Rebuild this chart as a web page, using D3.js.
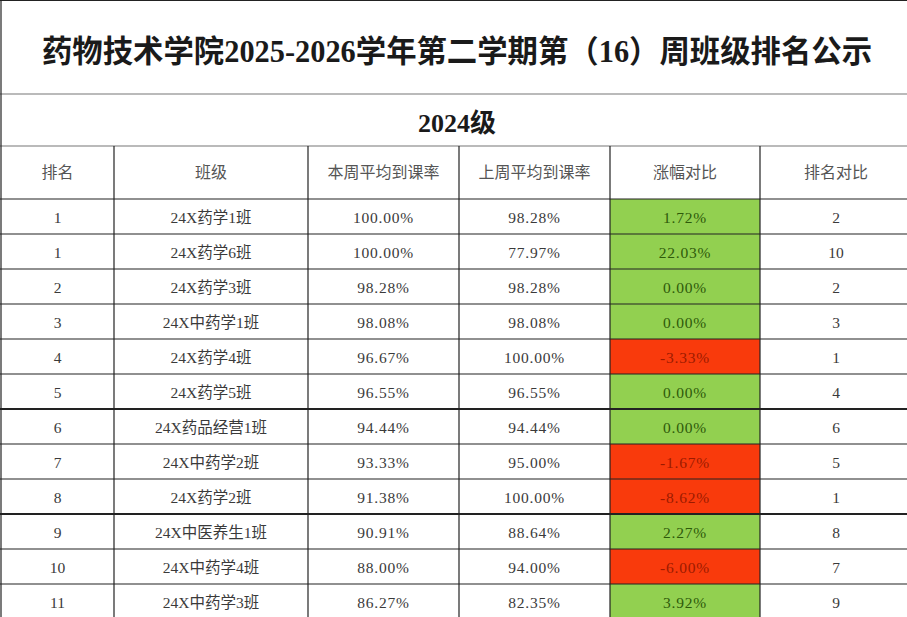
<!DOCTYPE html>
<html>
<head>
<meta charset="utf-8">
<script src="https://cdn.jsdelivr.net/npm/d3@7"></script>
<style>
  html, body { margin: 0; padding: 0; background: #fff; overflow: hidden; }
  text { font-family: "Liberation Serif", "Noto Sans CJK SC", serif; }
</style>
</head>
<body>
<div class="tableau"></div>
<script>
// titres
var titre = "药物技术学院2025-2026学年第二学期第（16）周班级排名公示";
var niveau = "2024级";
var entetes = ["排名", "班级", "本周平均到课率", "上周平均到课率", "涨幅对比", "排名对比"];

// donnees
var rangs = [1, 1, 2, 3, 4, 5, 6, 7, 8, 9, 10, 11];
var classes = ["24X药学1班", "24X药学6班", "24X药学3班", "24X中药学1班", "24X药学4班", "24X药学5班",
  "24X药品经营1班", "24X中药学2班", "24X药学2班", "24X中医养生1班", "24X中药学4班", "24X中药学3班"];
var cetteSemaine = [100.00, 100.00, 98.28, 98.08, 96.67, 96.55, 94.44, 93.33, 91.38, 90.91, 88.00, 86.27];
var semaineDerniere = [98.28, 77.97, 98.28, 98.08, 100.00, 96.55, 94.44, 95.00, 100.00, 88.64, 94.00, 82.35];
var variation = [1.72, 22.03, 0.00, 0.00, -3.33, 0.00, 0.00, -1.67, -8.62, 2.27, -6.00, 3.92];
var rangPrecedent = [2, 10, 2, 3, 1, 4, 6, 5, 1, 8, 7, 9];

var width = 907, height = 617;
var bordsColonnes = [1, 114, 308, 459, 610, 760, 912];
var hautTitre = 94, hautNiveau = 146, hautEntete = 199, hauteurLigne = 35;

var nbLignes = rangs.length;
var lignes = d3.range(nbLignes).map(function (i) {
  return {
    cellules: [
      String(rangs[i]),
      classes[i],
      cetteSemaine[i].toFixed(2) + "%",
      semaineDerniere[i].toFixed(2) + "%",
      variation[i].toFixed(2) + "%",
      String(rangPrecedent[i])
    ],
    variation: variation[i]
  };
});

var y = d3.scaleLinear()
  .domain([0, nbLignes])
  .range([hautEntete, hautEntete + nbLignes * hauteurLigne]);

var svg = d3.select(".tableau").append("svg")
  .attr("width", width)
  .attr("height", height);

// fonds des cellules de variation
svg.append("g").selectAll("rect")
  .data(lignes)
  .enter().append("rect")
  .attr("x", bordsColonnes[4])
  .attr("y", function (d, i) { return y(i); })
  .attr("width", bordsColonnes[5] - bordsColonnes[4])
  .attr("height", hauteurLigne)
  .attr("fill", function (d) { return d.variation < 0 ? "#F93A0C" : "#92D050"; });

// titre
svg.append("text")
  .attr("x", 457)
  .attr("y", 51)
  .attr("text-anchor", "middle")
  .attr("dominant-baseline", "central")
  .attr("font-size", 31)
  .attr("font-weight", "bold")
  .attr("textLength", 830)
  .attr("lengthAdjust", "spacingAndGlyphs")
  .attr("fill", "#1a1a1a")
  .text(titre);

svg.append("text")
  .attr("x", 457)
  .attr("y", 123)
  .attr("text-anchor", "middle")
  .attr("dominant-baseline", "central")
  .attr("font-size", 26)
  .attr("font-weight", "bold")
  .attr("fill", "#1a1a1a")
  .text(niveau);

// entetes
svg.append("g").selectAll("text")
  .data(entetes)
  .enter().append("text")
  .attr("x", function (d, i) { return (bordsColonnes[i] + bordsColonnes[i + 1]) / 2; })
  .attr("y", (hautNiveau + hautEntete) / 2)
  .attr("text-anchor", "middle")
  .attr("dominant-baseline", "central")
  .attr("font-size", 16)
  .attr("fill", "#555")
  .text(function (d) { return d; });

// lignes de donnees
var g = svg.append("g").selectAll("g")
  .data(lignes)
  .enter().append("g")
  .attr("transform", function (d, i) { return "translate(0," + (y(i) + hauteurLigne / 2) + ")"; });

g.selectAll("text")
  .data(function (d) { return d.cellules.map(function (c, j) { return { texte: c, col: j, v: d.variation }; }); })
  .enter().append("text")
  .attr("x", function (d) { return (bordsColonnes[d.col] + bordsColonnes[d.col + 1]) / 2; })
  .attr("y", 1)
  .attr("text-anchor", "middle")
  .attr("dominant-baseline", "central")
  .attr("font-size", 15.5)
  .attr("letter-spacing", function (d) { return (d.col >= 2 && d.col <= 4) ? 0.8 : 0; })
  .attr("fill", function (d) {
    if (d.col == 4) return d.v < 0 ? "#9C1A00" : "#2E5A0A";
    return "#3a3a3a";
  })
  .text(function (d) { return d.texte; });

// traits horizontaux
var horizontales = [0.5, hautTitre, hautNiveau, hautEntete].concat(d3.range(1, nbLignes + 1).map(y));
svg.append("g").selectAll("line")
  .data(horizontales)
  .enter().append("line")
  .attr("x1", 0).attr("x2", width)
  .attr("y1", function (d) { return d; })
  .attr("y2", function (d) { return d; })
  .attr("stroke", function (d) { return d == hautTitre || d == hautNiveau ? "#777" : "#222"; })
  .attr("stroke-width", function (d) { return (d == y(6) || d == y(9)) ? 2 : 1.2; });

// traits verticaux
svg.append("g").selectAll("line")
  .data(bordsColonnes.slice(0, 6))
  .enter().append("line")
  .attr("x1", function (d) { return d; })
  .attr("x2", function (d) { return d; })
  .attr("y1", function (d, i) { return i == 0 ? 0 : hautNiveau; })
  .attr("y2", height)
  .attr("stroke", "#222")
  .attr("stroke-width", 1.2);
</script>
</body>
</html>
